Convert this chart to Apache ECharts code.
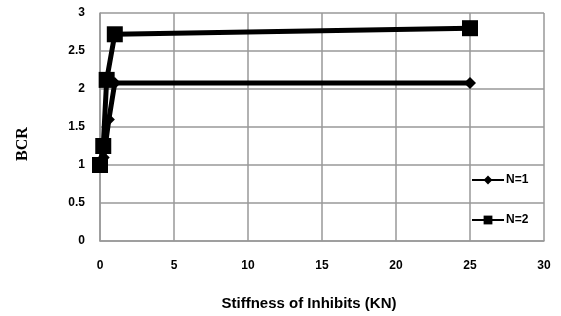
<!DOCTYPE html>
<html>
<head>
<meta charset="utf-8">
<script src="https://cdn.jsdelivr.net/npm/echarts@6/dist/echarts.min.js"></script>
<style>
  html, body { margin: 0; padding: 0; background: #fff; }
  #main { width: 561px; height: 316px; }
</style>
</head>
<body>
<div id="main"></div>
<script>
var chart = echarts.init(document.getElementById('main'), null, { renderer: 'canvas' });

// data
var n1X = [0, 0.25, 0.6, 1, 25];
var n1Y = [1, 1.1, 1.6, 2.08, 2.08];
var n2X = [0, 0.22, 0.45, 1, 25];
var n2Y = [1, 1.25, 2.12, 2.72, 2.8];
var seriesNames = ['N=1', 'N=2'];

function pairs(xs, ys) {
  return xs.map(function (x, i) { return [x, ys[i]]; });
}

var labelFont = { fontFamily: 'Liberation Sans', fontWeight: 'bold', fontSize: 12, color: '#000' };
var gridLine = { lineStyle: { color: '#999', width: 1.5 } };

var option = {
  backgroundColor: '#ffffff',
  animation: false,
  grid: { left: 100, right: 17, top: 13, bottom: 74, containLabel: false },
  xAxis: {
    type: 'value', min: 0, max: 30, interval: 5,
    name: 'Stiffness of Inhibits (KN)',
    nameLocation: 'middle', nameGap: 55,
    nameTextStyle: { fontFamily: 'Liberation Sans', fontWeight: 'bold', fontSize: 15, color: '#000', padding: [0, 26, 0, 0] },
    axisLine: { show: true, lineStyle: { color: '#999', width: 1.5 } },
    axisTick: { show: false },
    splitLine: gridLine,
    axisLabel: Object.assign({ margin: 19 }, labelFont)
  },
  yAxis: {
    type: 'value', min: 0, max: 3, interval: 0.5,
    axisLine: { show: true, lineStyle: { color: '#999', width: 1.5 } },
    axisTick: { show: false },
    splitLine: gridLine,
    axisLabel: Object.assign({ margin: 15 }, labelFont)
  },
  graphic: [{
    type: 'text',
    x: 23, y: 144, rotation: Math.PI / 2,
    style: {
      text: 'BCR', fill: '#000',
      font: 'bold 16px "Liberation Serif"',
      align: 'center', verticalAlign: 'middle'
    }
  }],
  legend: {
    orient: 'vertical',
    left: 466, top: 169,
    itemGap: 28,
    itemWidth: 32, itemHeight: 11,
    textStyle: { fontFamily: 'Liberation Sans', fontWeight: 'bold', fontSize: 12, color: '#000', padding: [0, 0, 0, -3] },
    data: seriesNames
  },
  series: [
    {
      name: seriesNames[0], type: 'line',
      data: pairs(n1X, n1Y),
      symbol: 'diamond', symbolSize: 12,
      lineStyle: { color: '#000', width: 5 },
      itemStyle: { color: '#000' }
    },
    {
      name: seriesNames[1], type: 'line',
      data: pairs(n2X, n2Y),
      symbol: 'rect', symbolSize: 16,
      lineStyle: { color: '#000', width: 5 },
      itemStyle: { color: '#000' }
    }
  ]
};

chart.setOption(option);
</script>
</body>
</html>
